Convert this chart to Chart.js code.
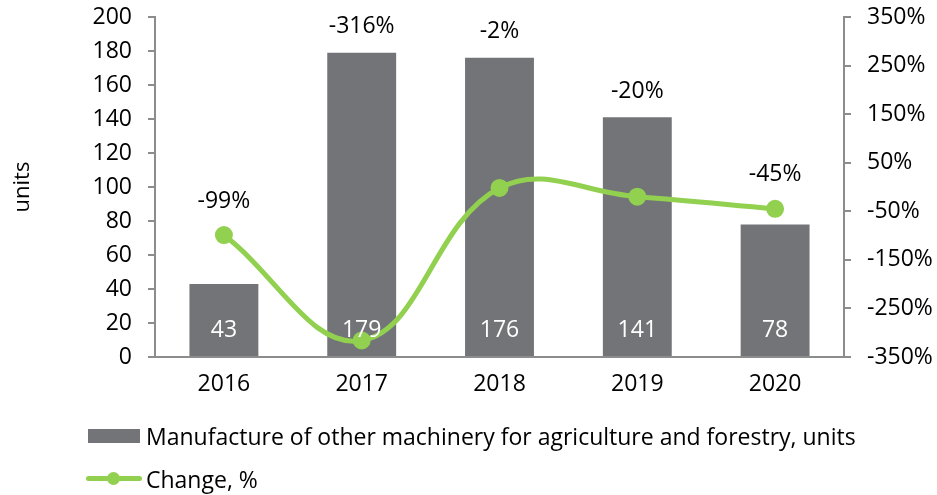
<!DOCTYPE html>
<html>
  <head>
    <meta charset="utf-8" />
    <title>Manufacture of other machinery for agriculture and forestry</title>
    <script src="https://cdn.jsdelivr.net/npm/chart.js"></script>
    <style>
      body {
        margin: 0;
        background: #fff;
        font-family: "Open Sans", sans-serif;
      }

      .wrap {
        position: relative;
        width: 937px;
        height: 495px;
      }

      .legend {
        position: absolute;
        left: 86px;
        top: 414px;
        font-size: 23px;
        color: #000;
      }

      .item {
        display: flex;
        align-items: center;
        height: 43px;
      }

      .swatch {
        width: 56px;
        margin-right: 4px;
        display: flex;
        align-items: center;
        justify-content: center;
        position: relative;
      }

      .bar-box {
        width: 52px;
        height: 14px;
        background: #727477;
      }

      .line-seg {
        width: 56px;
        height: 5px;
        border-radius: 3px;
        background: #92d050;
      }

      .dot {
        position: absolute;
        left: 21px;
        width: 13px;
        height: 13px;
        border-radius: 50%;
        background: #92d050;
      }
    </style>
  </head>
  <body>
    <div class="wrap">
      <canvas id="chart" width="937" height="495"></canvas>
      <div class="legend">
        <div class="item">
          <div class="swatch"><div class="bar-box"></div></div>
          <span>Manufacture of other machinery for agriculture and forestry, units</span>
        </div>
        <div class="item">
          <div class="swatch"><div class="line-seg"></div><div class="dot"></div></div>
          <span>Change, %</span>
        </div>
      </div>
    </div>

    <script>
      var years = ["2016", "2017", "2018", "2019", "2020"];
      var units = [43, 179, 176, 141, 78];
      var change = [-99, -316, -2, -20, -45];

      var gray = "#727477";
      var green = "#92D050";
      var axisColor = "#8c8c8c";
      var fontFamily = "'Open Sans', sans-serif";

      // labels: units inside the bars, change % above bar or point
      const labelPlugin = {
        id: "labels",
        afterDatasetsDraw(chart) {
          const ctx = chart.ctx;
          const bars = chart.getDatasetMeta(0).data;
          const points = chart.getDatasetMeta(1).data;
          const bottom = chart.scales.y.bottom;
          ctx.save();
          ctx.font = "23px " + fontFamily;
          ctx.textAlign = "center";
          ctx.textBaseline = "middle";
          bars.forEach((bar, i) => {
            ctx.fillStyle = "#fff";
            ctx.fillText(units[i], bar.x, bottom - 27);
            const y = bar.y < points[i].y ? bar.y - 26 : points[i].y - 34;
            ctx.fillStyle = "#000";
            ctx.fillText(change[i] + "%", bar.x, y);
          });
          ctx.restore();
        },
      };

      // fixed side widths, no extra label padding top/bottom
      function fixWidth(w) {
        return (s) => {
          s.width = w;
          s.paddingTop = 0;
          s.paddingBottom = 0;
        };
      }

      new Chart(document.getElementById("chart"), {
        data: {
          labels: years,
          datasets: [
            {
              type: "bar",
              label: "Manufacture of other machinery for agriculture and forestry, units",
              data: units,
              backgroundColor: gray,
              categoryPercentage: 1,
              barPercentage: 0.5,
              yAxisID: "y",
              order: 2,
            },
            {
              type: "line",
              label: "Change, %",
              data: change,
              borderColor: green,
              backgroundColor: green,
              borderWidth: 5,
              pointRadius: 6.5,
              pointHoverRadius: 6.5,
              tension: 0.4,
              yAxisID: "y1",
              order: 1,
            },
          ],
        },
        options: {
          responsive: false,
          animation: false,
          layout: { padding: { top: 17 } },
          plugins: {
            legend: { display: false },
            tooltip: { enabled: false },
          },
          scales: {
            x: {
              grid: { display: false, drawTicks: false },
              border: { color: axisColor, width: 2 },
              ticks: { color: "#000", font: { family: fontFamily, size: 23 }, padding: 14 },
              afterFit: (s) => { s.height = 138; },
            },
            y: {
              position: "left",
              min: 0,
              max: 200,
              ticks: { stepSize: 20, color: "#000", font: { family: fontFamily, size: 23 }, padding: 16 },
              grid: { drawOnChartArea: false, tickLength: 7, color: axisColor, lineWidth: 2 },
              border: { color: axisColor, width: 2 },
              title: {
                display: true,
                text: "units",
                color: "#000",
                font: { family: fontFamily, size: 22 },
                padding: { top: 10 },
              },
              afterFit: fixWidth(155),
            },
            y1: {
              position: "right",
              min: -350,
              max: 350,
              ticks: {
                stepSize: 100,
                color: "#000",
                font: { family: fontFamily, size: 23 },
                padding: 16,
                callback: (v) => v + "%",
              },
              grid: { drawOnChartArea: false, tickLength: 7, color: axisColor, lineWidth: 2 },
              border: { color: axisColor, width: 2 },
              afterFit: fixWidth(93),
            },
          },
        },
        plugins: [labelPlugin],
      });
    </script>
  </body>
</html>
